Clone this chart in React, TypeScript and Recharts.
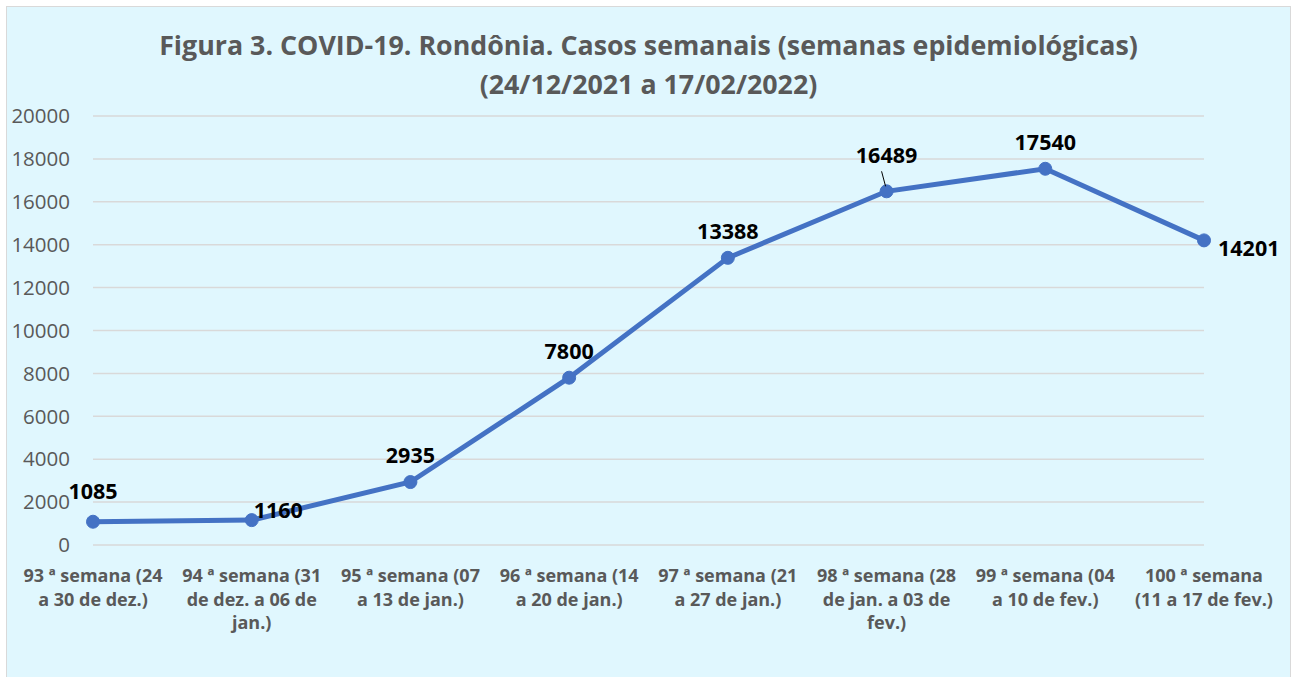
import { LineChart, Line, XAxis, YAxis, CartesianGrid, LabelList } from "recharts";

const semanas = [
  "93 ª semana (24 a 30 de dez.)",
  "94 ª semana (31 de dez. a 06 de jan.)",
  "95 ª semana (07 a 13 de jan.)",
  "96 ª semana (14 a 20 de jan.)",
  "97 ª semana (21 a 27 de jan.)",
  "98 ª semana (28 de jan. a 03 de fev.)",
  "99 ª semana (04 a 10 de fev.)",
  "100 ª semana (11 a 17 de fev.)",
];

// linhas dos rótulos do eixo X, como aparecem quebradas no gráfico
const rotulosX = [
  ["93 ª semana (24", "a 30 de dez.)"],
  ["94 ª semana (31", "de dez. a 06 de", "jan.)"],
  ["95 ª semana (07", "a 13 de jan.)"],
  ["96 ª semana (14", "a 20 de jan.)"],
  ["97 ª semana (21", "a 27 de jan.)"],
  ["98 ª semana (28", "de jan. a 03 de", "fev.)"],
  ["99 ª semana (04", "a 10 de fev.)"],
  ["100 ª semana", "(11 a 17 de fev.)"],
];

const casos = [1085, 1160, 2935, 7800, 13388, 16489, 17540, 14201];

const ticksY = [0, 2000, 4000, 6000, 8000, 10000, 12000, 14000, 16000, 18000, 20000];

const data = semanas.map((s, i) => ({ semana: s, casos: casos[i] }));

const FONT = "'Open Sans', sans-serif";
const CINZA = "#595959";

const TickX = (props: any) => {
  const { x, y, index } = props;
  const linhas = rotulosX[index] || [];
  return (
    <text x={x} y={y} textAnchor="middle" fill={CINZA} fontFamily={FONT} fontWeight={700} fontSize={18}>
      {linhas.map((l, i) => (
        <tspan key={i} x={x} dy={i === 0 ? 31 : 23.5}>
          {l}
        </tspan>
      ))}
    </text>
  );
};

const Rotulo = (props: any) => {
  const { x, y, value, index } = props;
  let tx = x;
  let ty = y - 19;
  let anchor: "middle" | "start" = "middle";
  let leader = null;
  if (index === 0) {
    tx = x;
    ty = y - 23;
  } else if (index === 1) {
    tx = x + 2;
    ty = y - 2;
    anchor = "start";
  } else if (index === 5) {
    ty = y - 28;
    leader = <line x1={x - 5} y1={y - 20} x2={x - 1} y2={y - 5} stroke="#000" strokeWidth={1} />;
  } else if (index === 7) {
    tx = x + 14;
    ty = y + 16;
    anchor = "start";
  }
  return (
    <g>
      {leader}
      <text x={tx} y={ty} textAnchor={anchor} fill="#000" fontFamily={FONT} fontWeight={700} fontSize={21.5}>
        {value}
      </text>
    </g>
  );
};

export default function App() {
  return (
    <div style={{ position: "absolute", left: 0, top: 0, width: 1293, height: 677, overflow: "hidden", background: "#fff" }}>
      <div
        style={{
          position: "absolute",
          left: 6,
          top: 6,
          width: 1283,
          height: 680,
          background: "#e0f7fe",
          border: "1.5px solid #d9d9d9",
        }}
      />
      <div
        style={{
          position: "absolute",
          left: 0,
          top: 25,
          width: 1297,
          textAlign: "center",
          fontFamily: FONT,
          fontWeight: 700,
          fontSize: 26.8,
          lineHeight: "39px",
          color: CINZA,
        }}
      >
        Figura 3. COVID-19. Rondônia. Casos semanais (semanas epidemiológicas)
        <br />
        (24/12/2021 a 17/02/2022)
      </div>
      <div style={{ position: "absolute", left: 0, top: 0 }}>
        <LineChart width={1293} height={677} data={data} margin={{ top: 116, right: 89, bottom: 102, left: 33 }}>
          <CartesianGrid vertical={false} stroke="#d9d9d9" strokeWidth={1.5} />
          <XAxis
            dataKey="semana"
            height={30}
            axisLine={false}
            tickLine={false}
            interval={0}
            tick={<TickX />}
            tickSize={0}
            tickMargin={6}
          />
          <YAxis
            width={60}
            domain={[0, 20000]}
            ticks={ticksY}
            axisLine={false}
            tickLine={false}
            tickSize={0}
            tickMargin={23}
            tick={{ fill: CINZA, fontFamily: FONT, fontSize: 20.5 }}
          />
          <Line
            type="linear"
            dataKey="casos"
            stroke="#4472c4"
            strokeWidth={5}
            dot={{ r: 6.5, fill: "#4472c4", stroke: "#4472c4", strokeWidth: 1 }}
            isAnimationActive={false}
          >
            <LabelList dataKey="casos" content={<Rotulo />} />
          </Line>
        </LineChart>
      </div>
    </div>
  );
}
